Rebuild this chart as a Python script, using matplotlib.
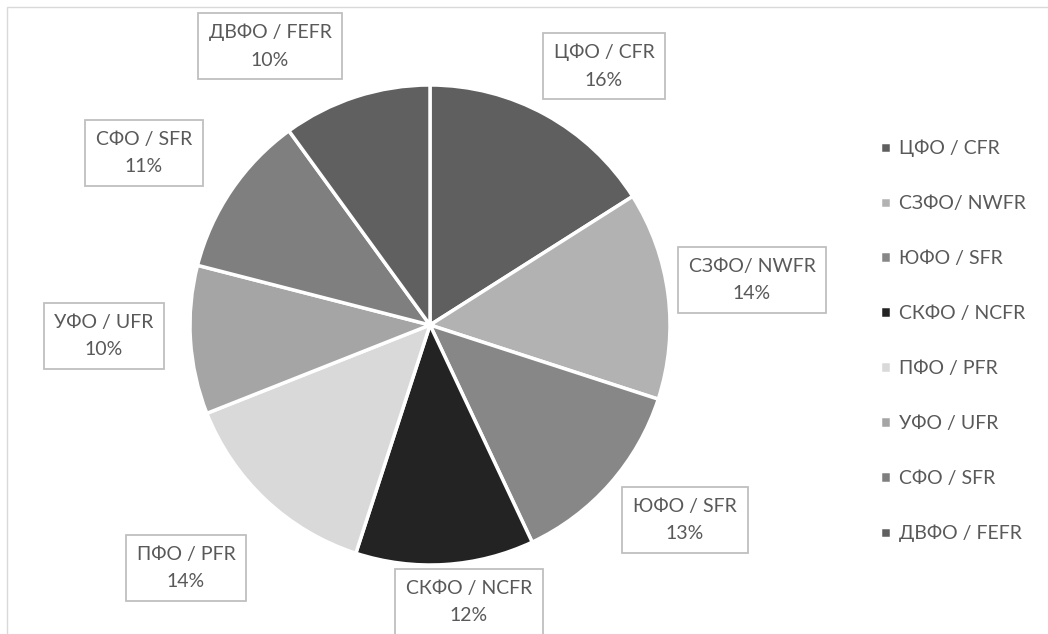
import matplotlib
matplotlib.use("Agg")
import matplotlib.pyplot as plt
from matplotlib.patches import Rectangle

REGIONS = ["ЦФО / CFR", "СЗФО/ NWFR", "ЮФО / SFR", "СКФО / NCFR",
           "ПФО / PFR", "УФО / UFR", "СФО / SFR", "ДВФО / FEFR"]
SHARES = [16, 14, 13, 12, 14, 10, 11, 10]
COLORS = ["#5f5f5f", "#b2b2b2", "#878787", "#232323",
          "#d9d9d9", "#a5a5a5", "#7f7f7f", "#606060"]

# label box centres in pixel coords (x, y from top)
LABEL_POS = [(604, 66), (752, 280), (685, 520), (469, 602),
             (186, 568), (104, 336), (144, 153), (270, 46)]

W, H = 1048, 634
TEXT = "#595959"


def main():
    plt.rcParams["font.family"] = ["Lato", "DejaVu Sans"]
    fig = plt.figure(figsize=(W / 100, H / 100), dpi=100)
    ax = fig.add_axes([0, 0, 1, 1])

    ax.add_patch(Rectangle((7, -10), W, H - 7 + 10, fill=False,
                           edgecolor="#d9d9d9", linewidth=1.0))

    wedges, _ = ax.pie(SHARES, colors=COLORS, startangle=90, counterclock=False,
                       center=(430, H - 325), radius=240, frame=True,
                       wedgeprops=dict(edgecolor="white", linewidth=2.5))
    ax.set_xlim(0, W)
    ax.set_ylim(0, H)
    ax.axis("off")

    for name, share, (x, y) in zip(REGIONS, SHARES, LABEL_POS):
        ax.text(x, H - y, f"{name}\n{share}%", ha="center", va="center",
                fontsize=14, color=TEXT, linespacing=1.75,
                bbox=dict(boxstyle="square,pad=0.55", facecolor="white",
                          edgecolor="#bfbfbf", linewidth=1.3))

    fig.legend(wedges, REGIONS, loc="center left", bbox_to_anchor=(0.823, 0.462),
               frameon=False, fontsize=14, labelcolor=TEXT,
               handlelength=0.55, handleheight=0.55, handletextpad=0.45,
               labelspacing=1.95)

    fig.savefig("out.png", dpi=100)


if __name__ == "__main__":
    main()
